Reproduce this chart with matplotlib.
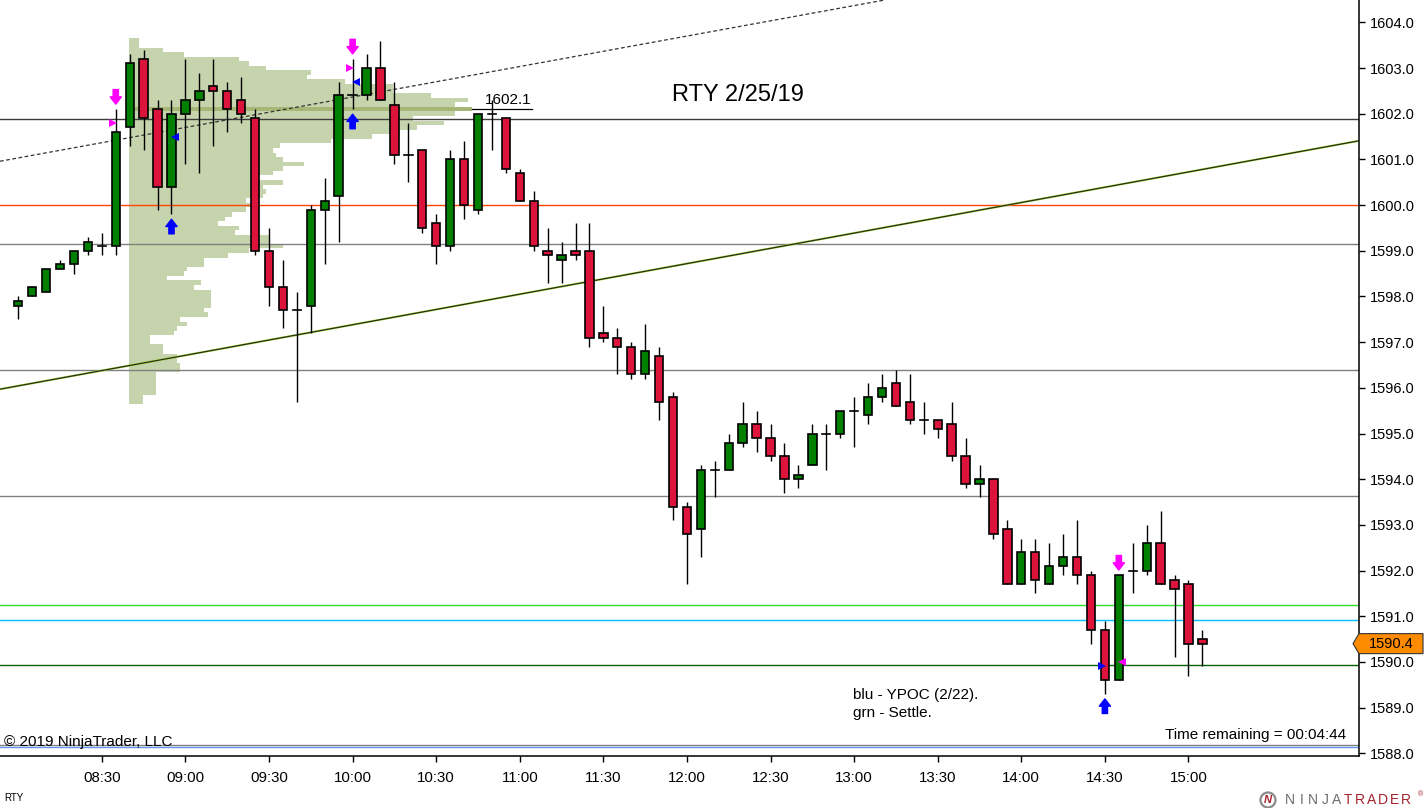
import matplotlib
matplotlib.use("Agg")
import matplotlib.pyplot as plt
from matplotlib.patches import Rectangle, Polygon, Circle
import matplotlib.transforms as mtransforms

plt.rcParams['font.family'] = ['Liberation Sans', 'DejaVu Sans']

# ---------------- data ----------------
session_start = "08:00"
bar_minutes = 5

opens = [1597.8, 1598.0, 1598.1, 1598.6, 1598.7, 1599.0, 1599.1, 1599.1, 1601.7, 1603.2,
         1602.1, 1600.4, 1602.0, 1602.3, 1602.6, 1602.5, 1602.3, 1601.9, 1599.0, 1598.2,
         1597.7, 1597.8, 1599.9, 1600.2, 1602.4, 1602.4, 1603.0, 1602.2, 1601.1, 1601.2,
         1599.6, 1599.1, 1601.0, 1599.9, 1602.0, 1601.9, 1600.7, 1600.1, 1599.0, 1598.8,
         1599.0, 1599.0, 1597.2, 1597.1, 1596.9, 1596.3, 1596.7, 1595.8, 1593.4, 1592.9,
         1594.2, 1594.2, 1594.8, 1595.2, 1594.9, 1594.5, 1594.0, 1594.3, 1595.0, 1595.0,
         1595.5, 1595.4, 1595.8, 1596.1, 1595.7, 1595.3, 1595.3, 1595.2, 1594.5, 1593.9,
         1594.0, 1592.9, 1591.7, 1592.4, 1591.7, 1592.1, 1592.3, 1591.9, 1590.7, 1589.6,
         1592.0, 1592.0, 1592.6, 1591.8, 1591.7, 1590.5]
highs = [1598.0, 1598.2, 1598.6, 1598.8, 1599.0, 1599.3, 1599.4, 1602.1, 1603.3, 1603.4,
         1602.3, 1602.3, 1603.2, 1602.9, 1603.2, 1602.7, 1602.8, 1602.1, 1599.5, 1598.8,
         1598.1, 1600.0, 1600.6, 1602.7, 1603.2, 1603.3, 1603.6, 1602.7, 1601.8, 1601.2,
         1599.8, 1601.2, 1601.4, 1602.0, 1602.3, 1601.9, 1600.8, 1600.3, 1599.5, 1599.2,
         1599.6, 1599.6, 1597.8, 1597.3, 1597.0, 1597.4, 1596.9, 1595.9, 1593.5, 1594.3,
         1594.4, 1595.0, 1595.7, 1595.5, 1595.2, 1594.8, 1594.3, 1595.2, 1595.2, 1595.5,
         1595.8, 1596.1, 1596.3, 1596.4, 1596.3, 1595.7, 1595.3, 1595.7, 1594.9, 1594.3,
         1594.0, 1593.1, 1592.7, 1592.7, 1592.6, 1592.8, 1593.1, 1592.0, 1590.9, 1591.9,
         1592.6, 1593.0, 1593.3, 1591.9, 1591.8, 1590.7]
lows = [1597.5, 1598.0, 1598.1, 1598.6, 1598.5, 1598.9, 1598.9, 1598.9, 1601.3, 1601.2,
        1599.9, 1599.8, 1600.9, 1600.7, 1601.3, 1601.6, 1601.8, 1598.9, 1597.8, 1597.3,
        1595.7, 1597.2, 1598.7, 1599.2, 1602.1, 1602.3, 1602.3, 1600.9, 1600.5, 1599.4,
        1598.7, 1599.0, 1599.7, 1599.8, 1601.2, 1600.7, 1600.1, 1599.0, 1598.3, 1598.3,
        1598.8, 1596.9, 1597.0, 1596.3, 1596.2, 1596.2, 1595.3, 1593.1, 1591.7, 1592.3,
        1593.6, 1594.2, 1594.7, 1594.6, 1594.4, 1593.7, 1593.8, 1594.3, 1594.2, 1594.9,
        1594.7, 1595.2, 1595.7, 1595.6, 1595.2, 1595.0, 1594.9, 1594.4, 1593.8, 1593.6,
        1592.7, 1591.7, 1591.7, 1591.5, 1591.7, 1591.9, 1591.7, 1590.4, 1589.3, 1589.6,
        1591.5, 1591.9, 1591.7, 1590.1, 1589.7, 1589.9]
closes = [1597.9, 1598.2, 1598.6, 1598.7, 1599.0, 1599.2, 1599.1, 1601.6, 1603.1, 1601.9,
          1600.4, 1602.0, 1602.3, 1602.5, 1602.5, 1602.1, 1602.0, 1599.0, 1598.2, 1597.7,
          1597.7, 1599.9, 1600.1, 1602.4, 1602.4, 1603.0, 1602.3, 1601.1, 1601.1, 1599.5,
          1599.1, 1601.0, 1600.0, 1602.0, 1602.0, 1600.8, 1600.1, 1599.1, 1598.9, 1598.9,
          1598.9, 1597.1, 1597.1, 1596.9, 1596.3, 1596.8, 1595.7, 1593.4, 1592.8, 1594.2,
          1594.2, 1594.8, 1595.2, 1594.9, 1594.5, 1594.0, 1594.1, 1595.0, 1595.0, 1595.5,
          1595.5, 1595.8, 1596.0, 1595.6, 1595.3, 1595.3, 1595.1, 1594.5, 1593.9, 1594.0,
          1592.8, 1591.7, 1592.4, 1591.8, 1592.1, 1592.3, 1591.9, 1590.7, 1589.6, 1591.9,
          1592.0, 1592.6, 1591.7, 1591.6, 1590.4, 1590.4]

time_tick_labels = ["08:30", "09:00", "09:30", "10:00", "10:30", "11:00", "11:30", "12:00",
                    "12:30", "13:00", "13:30", "14:00", "14:30", "15:00"]
price_ticks = [1588.0, 1589.0, 1590.0, 1591.0, 1592.0, 1593.0, 1594.0, 1595.0, 1596.0,
               1597.0, 1598.0, 1599.0, 1600.0, 1601.0, 1602.0, 1603.0, 1604.0]

# volume profile (top price level 1603.6 down in 0.1 ticks)
profile_high = 1603.6
profile_tick = 0.1
profile_volume = [3, 3, 10, 16, 32, 35, 40, 53, 52, 63,
                  77, 77, 88, 99, 95, 100, 95, 83, 92, 84,
                  79, 71, 59, 44, 42, 43, 45, 51, 45, 42,
                  38, 45, 39, 40, 39, 34, 38, 34, 30, 28,
                  26, 32, 31, 41, 41, 45, 35, 29, 22, 22,
                  17, 16, 11, 21, 19, 24, 24, 24, 24, 22,
                  23, 15, 17, 14, 13, 6, 6, 10, 10, 14,
                  14, 15, 15, 8, 8, 8, 8, 8, 4, 4]
profile_start_bar = 8

# horizontal key levels
level_prices = [1601.88, 1600.0, 1599.14, 1596.39, 1593.64, 1591.24, 1590.91, 1589.93, 1588.17, 1588.14]
level_colors = ['#3C3C3C', '#FF4500', '#808080', '#808080', '#808080',
                '#32DD32', '#00BFFF', '#006400', '#808080', '#6495ED']

# channel lines (two anchor points each: bar index, price)
upper_channel = [(-1.31, 1600.96), (62.2, 1604.49)]
lower_channel = [(-1.31, 1595.97), (96.1, 1601.40)]

# trade signal markers
sell_arrow_bars = [7, 24, 79]
buy_arrow_bars = [11, 24, 78]
entry_marks = [(7, 1601.8, '>', '#FF00FF'), (24, 1603.0, '>', '#FF00FF'),
               (11, 1601.5, '<', '#0000FF'), (24, 1602.7, '<', '#0000FF'),
               (78, 1589.9, '>', '#0000FF'), (79, 1590.0, '<', '#FF00FF')]

# ---------------- figure ----------------
W, H = 1424, 808
fig = plt.figure(figsize=(W / 100, H / 100), dpi=100)
ax = fig.add_axes([0, 1 - 756 / H, 1359 / W, 756 / H])
ax.set_facecolor('white')
ax.set_xlim(-1.31, 96.24)
ax.set_ylim(1587.94, 1604.49)

n = len(opens)
h0, m0 = map(int, session_start.split(':'))
bar_times = [f"{(h0*60 + m0 + bar_minutes*i)//60:02d}:{(h0*60 + m0 + bar_minutes*i) % 60:02d}" for i in range(n)]

# volume profile
prof_levels = [round(profile_high - profile_tick * k, 1) for k in range(len(profile_volume))]
vmax = max(profile_volume)
prof_scale = 24.6 / vmax
poc_idx = profile_volume.index(vmax)
prof_colors = ['#A6B676' if k == poc_idx else '#C5D4AC' for k in range(len(profile_volume))]
ax.barh(prof_levels, [v * prof_scale for v in profile_volume], left=profile_start_bar - 0.05,
        height=profile_tick, color=prof_colors, linewidth=0, zorder=1)

# POC label
poc_price = prof_levels[poc_idx]
poc_end = profile_start_bar - 0.05 + vmax * prof_scale
ax.plot([poc_end, poc_end + 4.3], [poc_price, poc_price], color='black', lw=0.9, zorder=2)
ax.annotate(f"{poc_price:.1f}", xy=(poc_end + 4.3, poc_price), xytext=(0, 1.5),
            textcoords='offset points', ha='right', va='bottom', fontsize=11, zorder=5)

# key levels
for p, c in zip(level_prices, level_colors):
    ax.axhline(p, color=c, lw=1.0, zorder=2)

# channel lines
ax.axline(upper_channel[0], upper_channel[1], color='#333333', lw=0.9,
          linestyle=(0, (3, 2)), zorder=2.5)
ax.axline(lower_channel[0], lower_channel[1], color='#9ACD32', lw=1.5, zorder=2.5)
ax.axline(lower_channel[0], lower_channel[1], color='#26261A', lw=0.8, zorder=2.6)

# candles
bw = 0.6
for i in range(n):
    o, hi, lo, c = opens[i], highs[i], lows[i], closes[i]
    ax.plot([i, i], [lo, hi], color='black', lw=1.0, zorder=3, solid_capstyle='butt')
    if abs(c - o) < 1e-9:
        ax.plot([i - bw / 2, i + bw / 2], [o, o], color='black', lw=1.2, zorder=3.1)
    else:
        col = '#008000' if c > o else '#DC143C'
        ax.add_patch(Rectangle((i - bw / 2, min(o, c)), bw, abs(c - o), facecolor=col,
                               edgecolor='black', lw=1.2, zorder=3.1))

# signal arrows
for i in sell_arrow_bars:
    ax.annotate('', xy=(i, highs[i] + 0.11), xytext=(0, 10.5), textcoords='offset points',
                arrowprops=dict(arrowstyle='simple,head_length=0.55,head_width=0.85,tail_width=0.4',
                                color='#FF00FF', shrinkA=0, shrinkB=0, mutation_scale=9.5), zorder=4)
for i in buy_arrow_bars:
    ax.annotate('', xy=(i, lows[i] - 0.11), xytext=(0, -10.5), textcoords='offset points',
                arrowprops=dict(arrowstyle='simple,head_length=0.55,head_width=0.85,tail_width=0.4',
                                color='#0000FF', shrinkA=0, shrinkB=0, mutation_scale=9.5), zorder=4)
for i, p, mk, col in entry_marks:
    dx = -0.2 if mk == '>' else 0.25
    ax.plot(i + dx, p, marker=mk, color=col, markersize=6, markeredgewidth=0, zorder=4.5)

# axes styling
for s in ['left', 'top']:
    ax.spines[s].set_visible(False)
for s in ['right', 'bottom']:
    ax.spines[s].set_color('black')
    ax.spines[s].set_linewidth(1.1)
ax.yaxis.tick_right()
ax.set_yticks(price_ticks)
ax.set_yticklabels([f"{p:.1f}" for p in price_ticks])
xt = [bar_times.index(t) for t in time_tick_labels]
ax.set_xticks(xt)
ax.set_xticklabels(time_tick_labels)
ax.tick_params(axis='y', direction='out', length=4, width=1, labelsize=10.5, pad=4, colors='black')
ax.tick_params(axis='x', direction='out', length=4, width=1, labelsize=10.8, pad=7, colors='black')

# last price marker
last = closes[-1]
yd = ax.transData.transform((0, last))[1]
poly = Polygon([(1353, yd), (1359, yd + 10), (1423, yd + 10), (1423, yd - 10), (1359, yd - 10)],
               closed=True, facecolor='#FF8C00', edgecolor='#333333', lw=0.8,
               transform=mtransforms.IdentityTransform(), zorder=10, clip_on=False)
fig.add_artist(poly)
fig.text(1391 / W, yd / H, f"{last:.1f}", ha='center', va='center', fontsize=10.5, zorder=11)

# texts
fig.text(672 / W, 1 - 95 / H, "RTY 2/25/19", fontsize=17, ha='left', va='center')
fig.text(853 / W, 1 - 695 / H, "blu - YPOC (2/22).", fontsize=11, ha='left', va='center')
fig.text(853 / W, 1 - 713 / H, "grn - Settle.", fontsize=11, ha='left', va='center')
fig.text(1346 / W, 1 - 735 / H, "Time remaining = 00:04:44", fontsize=11, ha='right', va='center')
fig.text(4 / W, 1 - 742 / H, "\u00a9 2019 NinjaTrader, LLC", fontsize=11, ha='left', va='center')
fig.text(4 / W, 1 - 798 / H, "RTY", fontsize=7, ha='left', va='center')

# NinjaTrader logo
logo = "NINJATRADER"
for k, ch in enumerate(logo):
    fig.text((1290 + 11.6 * k) / W, 1 - 800 / H, ch, fontsize=10, ha='center', va='center',
             color='#6E6E6E' if k < 5 else '#A5222B')
fig.text(1420 / W, 1 - 795 / H, "\u00ae", fontsize=5, ha='center', va='center', color='#A5222B')
fig.add_artist(Circle((1268, 8), 7.5, transform=mtransforms.IdentityTransform(),
                      facecolor='none', edgecolor='#8A8A8A', lw=1.6))
fig.text(1268 / W, 8 / H, "N", fontsize=8, ha='center', va='center', color='#A5222B',
         fontweight='bold', style='italic')

fig.savefig("out.png", dpi=100, facecolor='white')
